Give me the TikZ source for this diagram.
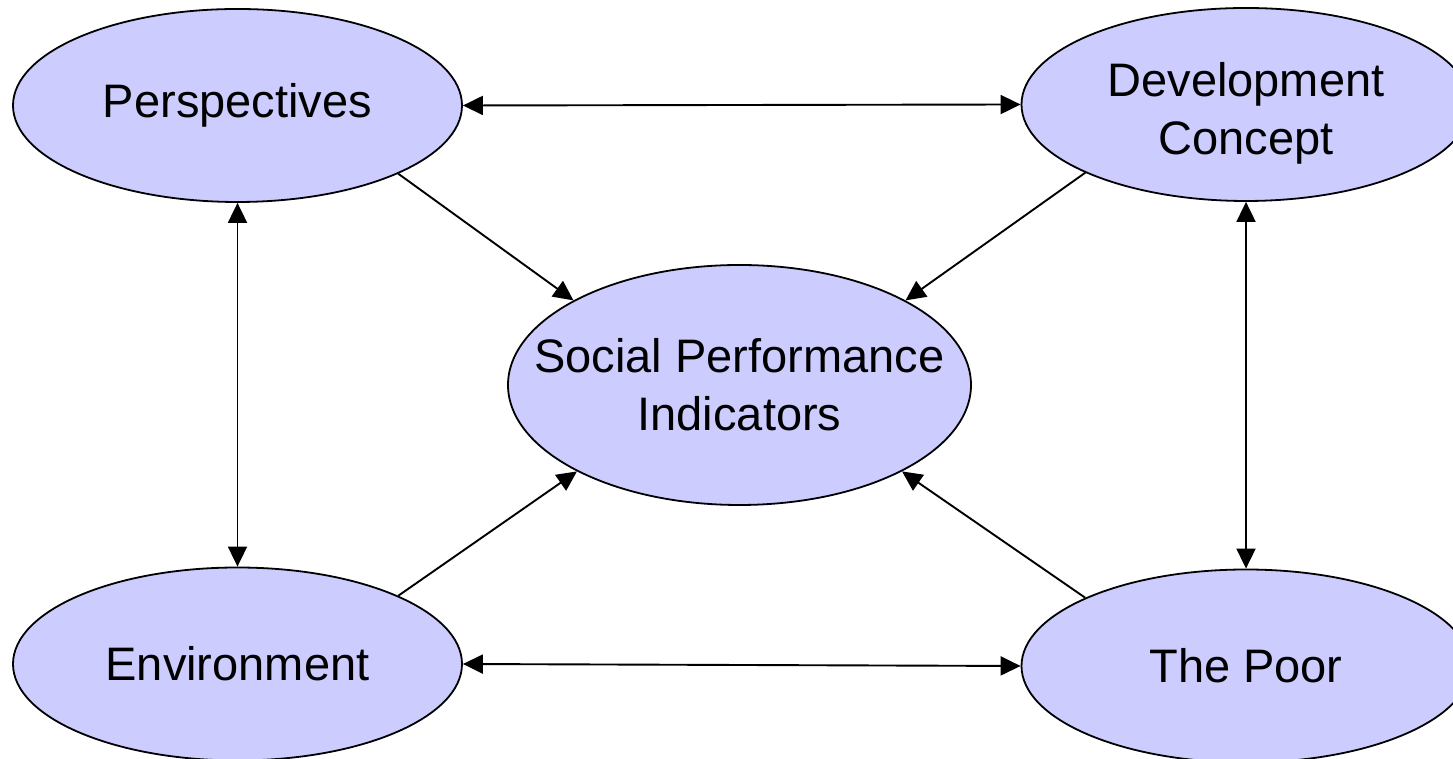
\documentclass[tikz,border=0pt]{standalone}
\usepackage{fontspec}
\setmainfont{Liberation Sans}
\usetikzlibrary{shapes.geometric,arrows.meta}
\definecolor{bubblefill}{HTML}{CCCCFF}
\begin{document}
\begin{tikzpicture}[x=1pt,y=1pt,
  bubble/.style={ellipse, draw=black, line width=1.8pt, fill=bubblefill,
    inner sep=0pt, minimum width=449pt, minimum height=193pt, align=center,
    font=\fontsize{47}{58}\selectfont},
  link/.style={line width=1.9pt, -{Triangle[length=20pt,width=19pt]}},
  twoway/.style={line width=1.9pt, {Triangle[length=20pt,width=19pt]}-{Triangle[length=20pt,width=19pt]}}]
\useasboundingbox (0,0) rectangle (1453,759);
\clip (0,0) rectangle (1453,759);

% the four surrounding factors and the central indicator set
\node[bubble] (persp) at (237.5,653.5) {Perspectives};
\node[bubble] (dev)   at (1246,654.5) {\rule{0pt}{52pt}Development\\Concept};
\node[bubble] (env)   at (237.5,95) {Environment};
\node[bubble] (poor)  at (1246,93) {The Poor};
\node[bubble, inner xsep=-45pt, minimum width=463pt, minimum height=240pt]
  (spi) at (739.5,374) {Social Performance\\Indicators};

% mutual links around the outside
\draw[twoway] (persp.east) -- (dev.west);
\draw[twoway] (env.east) -- (poor.west);
\draw[twoway] (persp.south) -- (env.north);
\draw[twoway] (dev.south) -- (poor.north);

% every factor feeds the indicators
\draw[link] (persp.-23) -- (spi.153);
\draw[link] (dev.-157) -- (spi.27);
\draw[link] (env.23) -- (spi.-152);
\draw[link] (poor.157) -- (spi.-28);
\end{tikzpicture}
\end{document}
